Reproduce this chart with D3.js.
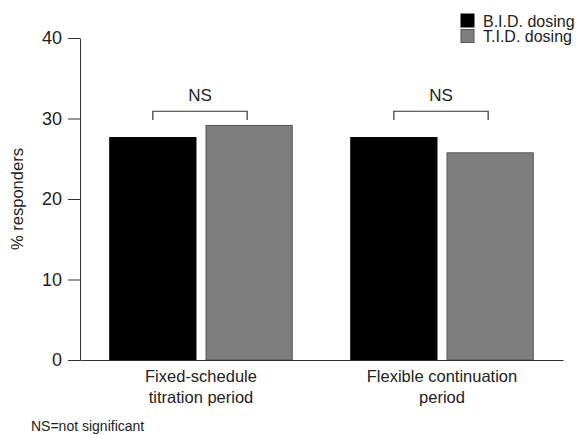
<!DOCTYPE html>
<html>
<head>
<meta charset="utf-8">
<script src="https://cdn.jsdelivr.net/npm/d3@7"></script>
<style>
  body { margin: 0; background: #fff; }
  svg { display: block; font-family: "Liberation Sans", Arial, Helvetica, sans-serif; }
</style>
</head>
<body>
<div id="chartDiv"></div>
<script>
// data
const groups = ["Fixed-schedule titration period", "Flexible continuation period"];
const groupLines = [["Fixed-schedule", "titration period"], ["Flexible continuation", "period"]];
const series = ["B.I.D. dosing", "T.I.D. dosing"];
const bidValues = [27.7, 27.7];
const tidValues = [29.2, 25.8];
const yTicks = [0, 10, 20, 30, 40];
const sigLabels = ["NS", "NS"];

const width = 579, height = 435;
const margin = {top: 38, right: 16, bottom: 75, left: 80};
const colors = {"B.I.D. dosing": "#000", "T.I.D. dosing": "#7e7e7e"};
const strokes = {"B.I.D. dosing": "#000", "T.I.D. dosing": "#555"};
const ink = "#222";

const data = groups.map((g, i) => ({group: g, values: [
  {key: series[0], value: bidValues[i]},
  {key: series[1], value: tidValues[i]}
]}));

const svg = d3.create("svg")
    .attr("width", width)
    .attr("height", height);

const x0 = d3.scaleBand()
    .domain(groups)
    .range([margin.left, width - margin.right])
    .paddingInner(0.2386)
    .paddingOuter(0.1213);

const x1 = d3.scaleBand()
    .domain(series)
    .range([0, x0.bandwidth()])
    .paddingInner(0.094);

const y = d3.scaleLinear()
    .domain([0, 40])
    .range([height - margin.bottom, margin.top]);

// bars
svg.append("g")
  .selectAll("g")
  .data(data)
  .join("g")
    .attr("transform", d => `translate(${x0(d.group)},0)`)
  .selectAll("rect")
  .data(d => d.values)
  .join("rect")
    .attr("x", d => x1(d.key) + 0.5)
    .attr("y", d => y(d.value) + 0.5)
    .attr("width", x1.bandwidth() - 1)
    .attr("height", d => y(0) - y(d.value) - 0.5)
    .attr("fill", d => colors[d.key])
    .attr("stroke", d => strokes[d.key])
    .attr("stroke-width", 1);

// y axis
svg.append("g")
    .attr("transform", `translate(${margin.left},0)`)
    .call(d3.axisLeft(y).tickValues(yTicks).tickSize(12).tickPadding(6).tickSizeOuter(0))
    .call(g => g.select(".domain").attr("stroke", "#333"))
    .call(g => g.selectAll(".tick line").attr("stroke", "#333"))
    .call(g => g.selectAll(".tick text")
        .attr("font-size", 18)
        .attr("font-family", "Liberation Sans, Arial, sans-serif")
        .attr("fill", ink));

// x axis (no ticks)
svg.append("g")
    .attr("transform", `translate(0,${y(0)})`)
    .call(d3.axisBottom(x0).tickSize(0).tickSizeOuter(0).tickFormat(""))
    .call(g => g.select(".domain").attr("stroke", "#333"));

// category labels, two lines each
svg.append("g")
  .selectAll("text")
  .data(groups)
  .join("text")
    .attr("text-anchor", "middle")
    .attr("font-size", 16.5)
    .attr("fill", ink)
    .each(function(d, i) {
      d3.select(this).selectAll("tspan")
        .data(groupLines[i])
        .join("tspan")
          .attr("x", x0(d) + x0.bandwidth() / 2)
          .attr("y", (t, j) => y(0) + 22 + j * 21)
          .text(t => t);
    });

// y label
svg.append("text")
    .attr("transform", `translate(23,${(y(0) + y(40)) / 2}) rotate(-90)`)
    .attr("text-anchor", "middle")
    .attr("font-size", 16.5)
    .attr("fill", ink)
    .text("% responders");

// significance brackets
const brTop = y(30.9), brBottom = y(29.8);
const brackets = svg.append("g")
  .selectAll("g")
  .data(groups)
  .join("g");

brackets.append("path")
    .attr("fill", "none")
    .attr("stroke", "#333")
    .attr("stroke-width", 1.2)
    .attr("d", d => {
      const a = x0(d) + x1(series[0]) + x1.bandwidth() / 2;
      const b = x0(d) + x1(series[1]) + x1.bandwidth() / 2 - 2;
      return `M${a},${brBottom}V${brTop}H${b}V${brBottom}`;
    });

brackets.append("text")
    .attr("x", d => x0(d) + x0.bandwidth() / 2 - 1)
    .attr("y", brTop - 10)
    .attr("text-anchor", "middle")
    .attr("font-size", 17)
    .attr("fill", ink)
    .text((d, i) => sigLabels[i]);

// legend
const legend = svg.append("g")
  .selectAll("g")
  .data(series)
  .join("g")
    .attr("transform", (d, i) => `translate(461,${14 + i * 15.5})`);

legend.append("rect")
    .attr("width", 13)
    .attr("height", 13)
    .attr("fill", d => colors[d])
    .attr("stroke", d => strokes[d]);

legend.append("text")
    .attr("x", 22)
    .attr("y", 12.5)
    .attr("font-size", 16)
    .attr("fill", ink)
    .text(d => d);

// footnote
svg.append("text")
    .attr("x", 31)
    .attr("y", 431)
    .attr("font-size", 14)
    .attr("fill", ink)
    .text("NS=not significant");

document.getElementById("chartDiv").appendChild(svg.node());
</script>
</body>
</html>
